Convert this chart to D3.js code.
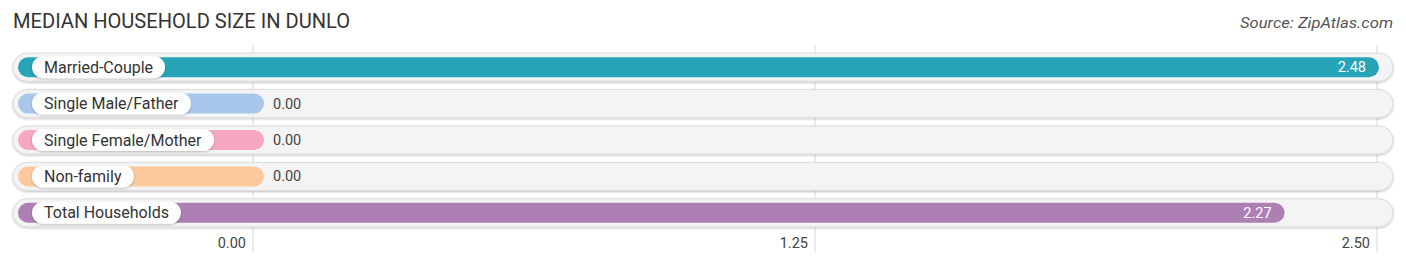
<!DOCTYPE html>
<html><head><meta charset="utf-8">
<script src="https://cdn.jsdelivr.net/npm/d3@7"></script>
<style>body{margin:0;background:#fff;font-family:Roboto,"Open Sans",sans-serif;}</style>
</head><body><svg id="c" width="1406" height="268"></svg>
<script>
const categories = ["Married-Couple","Single Male/Father","Single Female/Mother","Non-family","Total Households"];
const values = [2.48,0,0,0,2.27];
const colors = ["#27a4b8","#a9c7ea","#f5a7c3","#fbc99d","#ae7fb5"];
const tickValues = [0,1.25,2.5];
const tickLabels = ["0.00","1.25","2.50"];

const svg = d3.select("#c");
const x = d3.scaleLinear().domain([0,2.5]).range([253,1377]);
const y = d3.scaleBand().domain(categories).range([49,231]).paddingInner(0).paddingOuter(0);

const title = svg.append("text").attr("x",13).attr("y",28).attr("font-size",19.5).attr("fill","#333")
  .attr("font-family","Roboto, sans-serif").text("MEDIAN HOUSEHOLD SIZE IN DUNLO");
const tw = title.node().getComputedTextLength();
title.attr("textLength", 337).attr("lengthAdjust","spacingAndGlyphs");
svg.append("text").attr("x",1393).attr("y",28).attr("font-size",15).attr("fill","#555")
  .attr("font-style","italic").attr("text-anchor","end").attr("textLength",153).attr("lengthAdjust","spacingAndGlyphs")
  .text("Source: ZipAtlas.com");

const defs = svg.append("defs");
const f = defs.append("filter").attr("id","sh").attr("x","-5%").attr("y","-30%").attr("width","110%").attr("height","160%");
f.append("feDropShadow").attr("dx",0).attr("dy",1).attr("stdDeviation",1.2).attr("flood-color","#000").attr("flood-opacity",0.25);

// grid
svg.append("g").selectAll("line").data(tickValues).join("line")
  .attr("x1",d=>x(d)).attr("x2",d=>x(d)).attr("y1",45).attr("y2",252)
  .attr("stroke","#d8d8d8").attr("stroke-width",1);

const rows = svg.append("g").selectAll("g").data(categories).join("g")
  .attr("transform",d=>`translate(0,${y(d)+y.bandwidth()/2})`);

rows.append("rect").attr("x",13).attr("y",-14).attr("width",1380).attr("height",28).attr("rx",14)
  .attr("fill","#f4f4f4").attr("stroke","#dcdcdc").attr("stroke-width",1).attr("filter","url(#sh)");

rows.append("rect").attr("x",18).attr("y",-10)
  .attr("width",(d,i)=>x(values[i])+11-18).attr("height",20).attr("rx",10)
  .attr("fill",(d,i)=>colors[i]);

const pill = rows.append("g");
pill.append("text").attr("class","lbl").attr("x",44).attr("y",5.5).attr("font-size",16)
  .attr("fill","#333").text(d=>d);
pill.each(function(){
  const g = d3.select(this);
  const bb = g.select("text").node().getBBox();
  g.insert("rect","text").attr("x",32).attr("y",-11).attr("width",bb.width+24).attr("height",22).attr("rx",11)
    .attr("fill","#fff").attr("filter","url(#sh)");
});

rows.append("text")
  .attr("x",(d,i)=>values[i]>0.5 ? x(values[i]) - 2 : x(values[i]) + 20)
  .attr("y",5).attr("font-size",14.5)
  .attr("text-anchor",(d,i)=>values[i]>0.5?"end":"start")
  .attr("fill",(d,i)=>values[i]>0.5?"#fff":"#444")
  .text((d,i)=>values[i].toFixed(2));

svg.append("g").selectAll("text").data(tickValues).join("text")
  .attr("x",d=>x(d)-7).attr("y",248).attr("text-anchor","end").attr("font-size",14.5).attr("fill","#444")
  .text((d,i)=>tickLabels[i]);
</script></body></html>
